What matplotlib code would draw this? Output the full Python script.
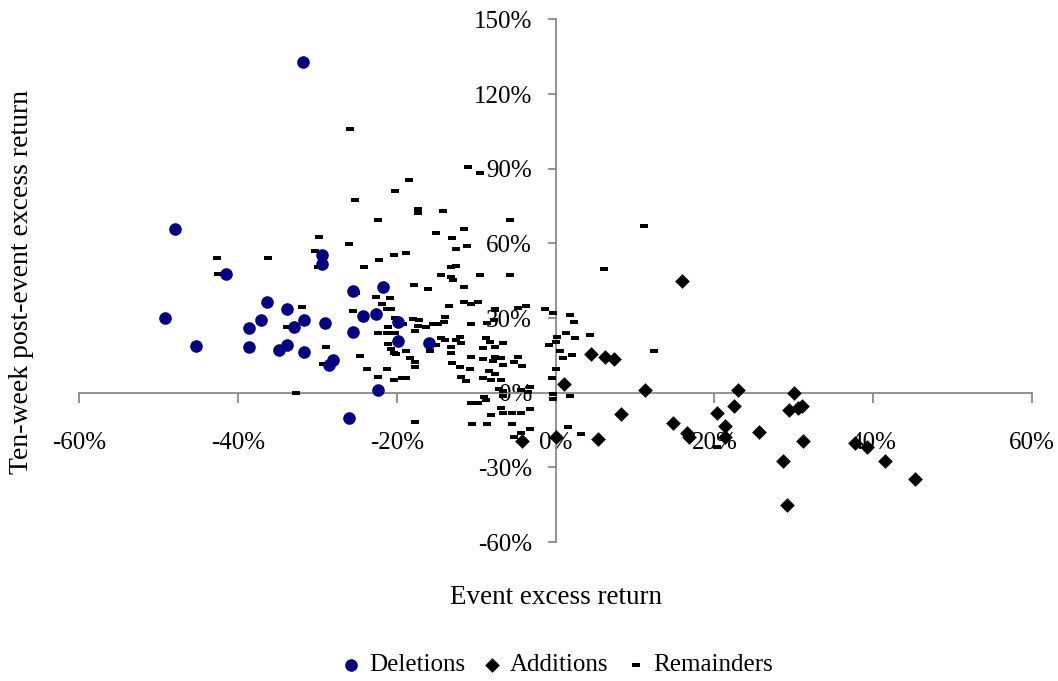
import matplotlib
matplotlib.use("Agg")
import matplotlib.pyplot as plt
from matplotlib.ticker import FuncFormatter

plt.rcParams['font.family'] = ['Liberation Serif', 'DejaVu Serif']

# event excess return (%) , ten-week post-event excess return (%)
del_x = [-31.8, -48.0, -41.6, -49.2, -45.3, -38.7, -38.7, -36.4, -37.1, -33.9,
         -33.0, -31.7, -34.8, -33.8, -31.7, -29.4, -29.4, -29.1, -28.6, -28.0,
         -25.5, -25.5, -24.3, -22.6, -21.8, -19.9, -19.9, -22.4, -26.1, -16.0]
del_y = [132.9, 65.9, 47.8, 30.1, 18.9, 26.1, 18.5, 36.5, 29.3, 33.7,
         26.5, 29.3, 17.3, 19.3, 16.5, 55.4, 51.8, 28.1, 11.2, 13.3,
         41.0, 24.5, 30.9, 31.7, 42.6, 28.5, 20.9, 1.2, -10.0, 20.1]

add_x = [15.9, 4.4, 6.2, 7.3, 1.0, 11.2, 23.0, 30.0, 8.2, 14.8,
         20.3, 22.4, 21.3, 16.5, 16.8, 21.3, 5.3, 0.0, 25.6, 29.4,
         30.5, 31.0, 31.1, 28.6, 37.7, 39.2, 41.5, 45.3, 29.1, -4.3]
add_y = [45.0, 15.7, 14.5, 13.7, 3.6, 1.2, 1.2, 0.0, -8.4, -12.0,
         -8.0, -5.2, -13.3, -16.1, -17.7, -17.7, -18.5, -17.7, -15.7, -6.8,
         -6.0, -5.2, -19.3, -27.3, -20.1, -21.7, -27.3, -34.5, -45.0, -19.3]

rem_x = [-25.9, -11.0, -9.5, -18.5, -20.2, -25.3, -17.4, -17.4, -14.2, -22.4,
         -5.8, 11.1, -11.5, -15.1, -29.8, -13.1, -26.1, -11.2, -12.6, -30.3,
         -20.4, -18.8, -42.7, -36.2, -22.2, -24.2, -30.0, -13.2, -12.6, 6.1,
         -42.5, -14.5, -13.2, -13.0, -9.6, -5.8, -17.9, -16.1, -11.5, -25.2,
         -22.7, -20.9, -21.9, -32.0, -13.4, -11.5, -10.7, -9.8, -7.6, -4.8,
         -3.7, -1.4, -25.6, -21.2, -20.7, -0.3, 1.8, -14.0, -20.2, -18.0,
         -17.2, 2.3, -19.2, -15.4, -14.8, -14.1, -10.7, -8.7, -7.8, -7.6,
         -17.4, -16.3, -33.9, -21.1, -17.7, -22.4, -21.3, -20.2, 1.3, 4.3,
         0.1, 2.4, -14.5, -14.0, -12.6, -12.1, -11.9, -8.8, -8.3, -7.7,
         -9.1, -6.7, 0.0, -0.8, -21.1, -15.1, -28.9, -13.2, -20.8, -20.4,
         -20.1, -18.9, -18.3, -15.9, -13.2, 0.6, 12.4, 2.0, -17.7, -17.7,
         -24.7, -10.7, 0.9, -7.7, -6.9, -7.9, -5.3, -4.8, -4.2, -6.7,
         -13.1, -12.0, -10.8, -29.3, -23.8, -21.3, 0.0, -22.4, -20.4, -19.4,
         -18.9, -11.9, -11.3, -9.1, -8.1, -7.7, -6.9, -0.5, -7.1, -6.6,
         -6.7, -3.3, -4.4, -3.5, -32.7, -0.3, -0.3, 1.8, -9.0, -8.8,
         -10.7, -9.8, -6.9, -6.7, -8.2, -5.5, -4.4, -3.3, -17.7, -10.6,
         -8.6, -5.5, -3.2, -4.4, -5.3, 1.5, 3.2, 20.3, -8.4, -9.1]
rem_y = [106.0, 90.8, 88.4, 85.5, 81.1, 77.5, 73.9, 72.3, 73.1, 69.5,
         69.5, 67.1, 65.9, 64.3, 62.6, 62.2, 59.8, 59.0, 57.8, 57.0,
         55.4, 56.2, 54.2, 54.2, 53.4, 50.6, 50.6, 50.6, 51.0, 49.8,
         47.8, 47.4, 46.6, 45.4, 47.4, 47.4, 43.4, 41.8, 42.6, 40.2,
         38.6, 38.2, 35.7, 34.5, 34.9, 36.5, 35.7, 36.5, 33.7, 34.1,
         34.9, 33.7, 32.9, 33.7, 33.7, 32.1, 31.3, 30.5, 30.1, 29.7,
         29.3, 28.5, 27.7, 27.7, 27.7, 28.5, 27.7, 28.1, 29.3, 33.3,
         26.9, 26.5, 26.5, 26.5, 24.9, 24.1, 24.1, 24.1, 24.1, 23.3,
         22.5, 22.1, 22.1, 21.3, 21.3, 22.5, 20.1, 22.1, 20.5, 18.5,
         18.1, 20.1, 20.5, 19.3, 19.7, 19.3, 18.5, 18.5, 17.7, 16.1,
         15.7, 16.9, 14.1, 16.9, 16.1, 16.9, 16.9, 15.3, 12.4, 10.4,
         14.9, 14.5, 14.1, 14.5, 14.1, 12.9, 12.4, 14.5, 10.8, 11.2,
         12.0, 10.4, 9.6, 11.6, 9.6, 9.6, 9.6, 6.4, 5.2, 6.0,
         6.0, 6.4, 4.8, 6.0, 5.2, 7.6, 5.2, 6.0, 1.6, 0.8,
         -1.2, 2.4, 1.2, 0.4, 0.0, -0.4, -2.4, -1.2, -1.6, -2.8,
         -4.0, -4.0, -6.0, -8.0, -8.8, -8.0, -8.0, -6.4, -11.6, -12.4,
         -12.4, -12.4, -14.5, -16.1, -17.7, -13.7, -16.5, -21.7, 8.8, 13.7]

x_ticks = [-60, -40, -20, 0, 20, 40, 60]
y_ticks = [-60, -30, 0, 30, 60, 90, 120, 150]

dash = [(-1, -0.4), (1, -0.4), (1, 0.4), (-1, 0.4)]

fig = plt.figure(figsize=(10.58, 6.81), dpi=100)
ax = fig.add_axes([0.0751, 0.2041, 0.9003, 0.7673])

ax.scatter(rem_x, rem_y, marker=dash, s=38, color='black', linewidths=0, zorder=3, label='Remainders')
ax.scatter(del_x, del_y, marker='o', s=82, color='#000080', linewidths=0, zorder=4, label='Deletions')
ax.scatter(add_x, add_y, marker='D', s=56, color='black', linewidths=0, zorder=4, label='Additions')

ax.set_xlim(-60, 60)
ax.set_ylim(-60, 150)
ax.set_xticks(x_ticks)
ax.set_yticks(y_ticks)
pct = FuncFormatter(lambda v, p: '%d%%' % v)
ax.xaxis.set_major_formatter(pct)
ax.yaxis.set_major_formatter(pct)

for side in ['top', 'right']:
    ax.spines[side].set_visible(False)
ax.spines['left'].set_position(('data', 0))
ax.spines['bottom'].set_position(('data', 0))
for side in ['left', 'bottom']:
    ax.spines[side].set_color('#808080')
    ax.spines[side].set_linewidth(1.2)
ax.tick_params(axis='x', direction='out', length=7, width=1.2, color='#808080', pad=21, labelsize=18)
ax.tick_params(axis='y', direction='out', length=6, width=1.2, color='#808080', pad=11, labelsize=18)

fig.text(556 / 1058, 1 - 597 / 681, 'Event excess return', ha='center', va='center', fontsize=19.5)
fig.text(22 / 1058, 1 - 282 / 681, 'Ten-week post-event excess return', ha='center', va='center',
         rotation=90, fontsize=20)

h, l = ax.get_legend_handles_labels()
order = [1, 2, 0]
fig.legend([h[i] for i in order], [l[i] for i in order], loc='center',
           bbox_to_anchor=(556 / 1058, 1 - 665 / 681), ncol=3, frameon=False,
           fontsize=18, handletextpad=0.2, columnspacing=0.6, handlelength=1.0)

fig.savefig('out.png', dpi=100)
